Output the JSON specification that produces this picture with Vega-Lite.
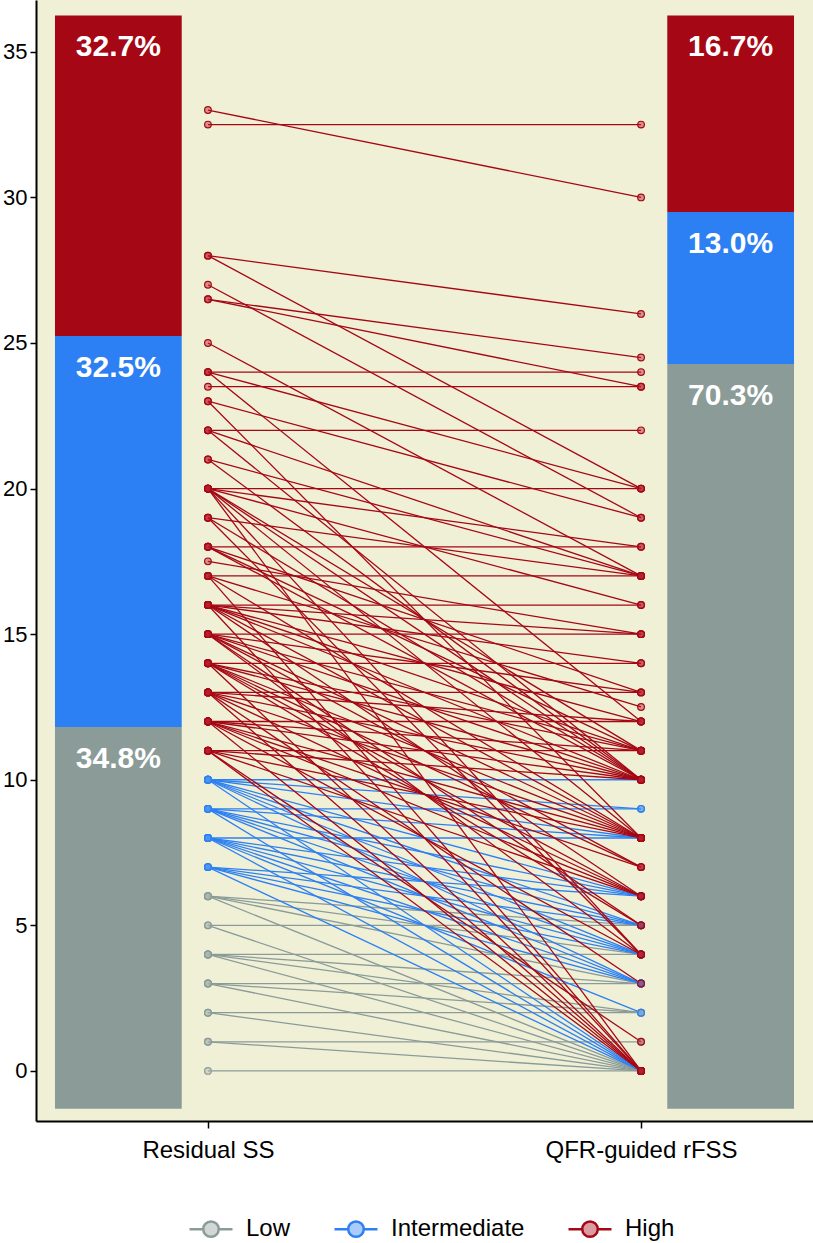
{
  "$schema": "https://vega.github.io/schema/vega-lite/v6.json",
  "width": 777,
  "height": 1121,
  "autosize": {"type": "none"},
  "padding": {"left": 36, "top": 0, "right": 0, "bottom": 122},
  "background": "#ffffff",
  "config": {
    "view": {"fill": "#f0f0d7", "stroke": null},
    "font": "Liberation Sans, Arial, sans-serif",
    "axisY": {"domainColor": "#000000", "domainWidth": 2, "tickColor": "#000000", "tickSize": 6, "tickWidth": 1.5, "labelFontSize": 22, "labelColor": "#000000", "labelPadding": 3, "grid": false, "title": null},
    "axisX": {"domainColor": "#000000", "domainWidth": 2, "tickColor": "#000000", "tickSize": 7, "tickWidth": 1.5, "labelFontSize": 24, "labelColor": "#000000", "labelPadding": 10, "labelAngle": 0, "labelLimit": 0, "grid": false, "title": null}
  },
  "datasets": {
    "bars": [
      {"stage": "Residual SS", "level": "Low", "lo": -1.3, "hi": 11.81, "pct": "34.8%"},
      {"stage": "Residual SS", "level": "Intermediate", "lo": 11.81, "hi": 25.24, "pct": "32.5%"},
      {"stage": "Residual SS", "level": "High", "lo": 25.24, "hi": 36.25, "pct": "32.7%"},
      {"stage": "QFR-guided rFSS", "level": "Low", "lo": -1.3, "hi": 24.28, "pct": "70.3%"},
      {"stage": "QFR-guided rFSS", "level": "Intermediate", "lo": 24.28, "hi": 29.5, "pct": "13.0%"},
      {"stage": "QFR-guided rFSS", "level": "High", "lo": 29.5, "hi": 36.25, "pct": "16.7%"}
    ],
    "pairs": [
      {"id": 1, "g": "Low", "Residual SS": 6, "QFR-guided rFSS": 5},
      {"id": 2, "g": "Low", "Residual SS": 6, "QFR-guided rFSS": 3},
      {"id": 3, "g": "Low", "Residual SS": 6, "QFR-guided rFSS": 0},
      {"id": 4, "g": "Low", "Residual SS": 6, "QFR-guided rFSS": 4},
      {"id": 5, "g": "Low", "Residual SS": 5, "QFR-guided rFSS": 5},
      {"id": 6, "g": "Low", "Residual SS": 5, "QFR-guided rFSS": 0},
      {"id": 7, "g": "Low", "Residual SS": 4, "QFR-guided rFSS": 4},
      {"id": 8, "g": "Low", "Residual SS": 4, "QFR-guided rFSS": 3},
      {"id": 9, "g": "Low", "Residual SS": 4, "QFR-guided rFSS": 2},
      {"id": 10, "g": "Low", "Residual SS": 4, "QFR-guided rFSS": 0},
      {"id": 11, "g": "Low", "Residual SS": 3, "QFR-guided rFSS": 3},
      {"id": 12, "g": "Low", "Residual SS": 3, "QFR-guided rFSS": 2},
      {"id": 13, "g": "Low", "Residual SS": 3, "QFR-guided rFSS": 0},
      {"id": 14, "g": "Low", "Residual SS": 2, "QFR-guided rFSS": 2},
      {"id": 15, "g": "Low", "Residual SS": 2, "QFR-guided rFSS": 0},
      {"id": 16, "g": "Low", "Residual SS": 1, "QFR-guided rFSS": 1},
      {"id": 17, "g": "Low", "Residual SS": 1, "QFR-guided rFSS": 0},
      {"id": 18, "g": "Low", "Residual SS": 0, "QFR-guided rFSS": 0},
      {"id": 19, "g": "Intermediate", "Residual SS": 10, "QFR-guided rFSS": 10},
      {"id": 20, "g": "Intermediate", "Residual SS": 10, "QFR-guided rFSS": 9},
      {"id": 21, "g": "Intermediate", "Residual SS": 10, "QFR-guided rFSS": 8},
      {"id": 22, "g": "Intermediate", "Residual SS": 10, "QFR-guided rFSS": 6},
      {"id": 23, "g": "Intermediate", "Residual SS": 10, "QFR-guided rFSS": 5},
      {"id": 24, "g": "Intermediate", "Residual SS": 10, "QFR-guided rFSS": 4},
      {"id": 25, "g": "Intermediate", "Residual SS": 10, "QFR-guided rFSS": 3},
      {"id": 26, "g": "Intermediate", "Residual SS": 10, "QFR-guided rFSS": 0},
      {"id": 27, "g": "Intermediate", "Residual SS": 9, "QFR-guided rFSS": 9},
      {"id": 28, "g": "Intermediate", "Residual SS": 9, "QFR-guided rFSS": 8},
      {"id": 29, "g": "Intermediate", "Residual SS": 9, "QFR-guided rFSS": 6},
      {"id": 30, "g": "Intermediate", "Residual SS": 9, "QFR-guided rFSS": 5},
      {"id": 31, "g": "Intermediate", "Residual SS": 9, "QFR-guided rFSS": 4},
      {"id": 32, "g": "Intermediate", "Residual SS": 9, "QFR-guided rFSS": 3},
      {"id": 33, "g": "Intermediate", "Residual SS": 9, "QFR-guided rFSS": 0},
      {"id": 34, "g": "Intermediate", "Residual SS": 8, "QFR-guided rFSS": 8},
      {"id": 35, "g": "Intermediate", "Residual SS": 8, "QFR-guided rFSS": 6},
      {"id": 36, "g": "Intermediate", "Residual SS": 8, "QFR-guided rFSS": 5},
      {"id": 37, "g": "Intermediate", "Residual SS": 8, "QFR-guided rFSS": 4},
      {"id": 38, "g": "Intermediate", "Residual SS": 8, "QFR-guided rFSS": 3},
      {"id": 39, "g": "Intermediate", "Residual SS": 8, "QFR-guided rFSS": 2},
      {"id": 40, "g": "Intermediate", "Residual SS": 8, "QFR-guided rFSS": 0},
      {"id": 41, "g": "Intermediate", "Residual SS": 7, "QFR-guided rFSS": 6},
      {"id": 42, "g": "Intermediate", "Residual SS": 7, "QFR-guided rFSS": 5},
      {"id": 43, "g": "Intermediate", "Residual SS": 7, "QFR-guided rFSS": 4},
      {"id": 44, "g": "Intermediate", "Residual SS": 7, "QFR-guided rFSS": 3},
      {"id": 45, "g": "Intermediate", "Residual SS": 7, "QFR-guided rFSS": 0},
      {"id": 46, "g": "High", "Residual SS": 33, "QFR-guided rFSS": 30},
      {"id": 47, "g": "High", "Residual SS": 32.5, "QFR-guided rFSS": 32.5},
      {"id": 48, "g": "High", "Residual SS": 28, "QFR-guided rFSS": 26},
      {"id": 49, "g": "High", "Residual SS": 28, "QFR-guided rFSS": 20},
      {"id": 50, "g": "High", "Residual SS": 27, "QFR-guided rFSS": 19},
      {"id": 51, "g": "High", "Residual SS": 26.5, "QFR-guided rFSS": 24.5},
      {"id": 52, "g": "High", "Residual SS": 26.5, "QFR-guided rFSS": 23.5},
      {"id": 53, "g": "High", "Residual SS": 25, "QFR-guided rFSS": 17},
      {"id": 54, "g": "High", "Residual SS": 24, "QFR-guided rFSS": 24},
      {"id": 55, "g": "High", "Residual SS": 24, "QFR-guided rFSS": 20},
      {"id": 56, "g": "High", "Residual SS": 24, "QFR-guided rFSS": 12},
      {"id": 57, "g": "High", "Residual SS": 23.5, "QFR-guided rFSS": 23.5},
      {"id": 58, "g": "High", "Residual SS": 23, "QFR-guided rFSS": 19},
      {"id": 59, "g": "High", "Residual SS": 23, "QFR-guided rFSS": 8},
      {"id": 60, "g": "High", "Residual SS": 22, "QFR-guided rFSS": 22},
      {"id": 61, "g": "High", "Residual SS": 22, "QFR-guided rFSS": 17},
      {"id": 62, "g": "High", "Residual SS": 22, "QFR-guided rFSS": 10},
      {"id": 63, "g": "High", "Residual SS": 21, "QFR-guided rFSS": 17},
      {"id": 64, "g": "High", "Residual SS": 21, "QFR-guided rFSS": 10},
      {"id": 65, "g": "High", "Residual SS": 20, "QFR-guided rFSS": 20},
      {"id": 66, "g": "High", "Residual SS": 20, "QFR-guided rFSS": 18},
      {"id": 67, "g": "High", "Residual SS": 20, "QFR-guided rFSS": 16},
      {"id": 68, "g": "High", "Residual SS": 20, "QFR-guided rFSS": 11},
      {"id": 69, "g": "High", "Residual SS": 20, "QFR-guided rFSS": 10},
      {"id": 70, "g": "High", "Residual SS": 20, "QFR-guided rFSS": 8},
      {"id": 71, "g": "High", "Residual SS": 20, "QFR-guided rFSS": 4},
      {"id": 72, "g": "High", "Residual SS": 20, "QFR-guided rFSS": 0},
      {"id": 73, "g": "High", "Residual SS": 19, "QFR-guided rFSS": 17},
      {"id": 74, "g": "High", "Residual SS": 19, "QFR-guided rFSS": 10},
      {"id": 75, "g": "High", "Residual SS": 19, "QFR-guided rFSS": 4},
      {"id": 76, "g": "High", "Residual SS": 18, "QFR-guided rFSS": 18},
      {"id": 77, "g": "High", "Residual SS": 18, "QFR-guided rFSS": 13},
      {"id": 78, "g": "High", "Residual SS": 18, "QFR-guided rFSS": 11},
      {"id": 79, "g": "High", "Residual SS": 18, "QFR-guided rFSS": 10},
      {"id": 80, "g": "High", "Residual SS": 17.5, "QFR-guided rFSS": 15},
      {"id": 81, "g": "High", "Residual SS": 17, "QFR-guided rFSS": 17},
      {"id": 82, "g": "High", "Residual SS": 17, "QFR-guided rFSS": 12.5},
      {"id": 83, "g": "High", "Residual SS": 17, "QFR-guided rFSS": 8},
      {"id": 84, "g": "High", "Residual SS": 17, "QFR-guided rFSS": 0},
      {"id": 85, "g": "High", "Residual SS": 16, "QFR-guided rFSS": 16},
      {"id": 86, "g": "High", "Residual SS": 16, "QFR-guided rFSS": 15},
      {"id": 87, "g": "High", "Residual SS": 16, "QFR-guided rFSS": 14},
      {"id": 88, "g": "High", "Residual SS": 16, "QFR-guided rFSS": 12},
      {"id": 89, "g": "High", "Residual SS": 16, "QFR-guided rFSS": 11},
      {"id": 90, "g": "High", "Residual SS": 16, "QFR-guided rFSS": 10},
      {"id": 91, "g": "High", "Residual SS": 16, "QFR-guided rFSS": 8},
      {"id": 92, "g": "High", "Residual SS": 16, "QFR-guided rFSS": 6},
      {"id": 93, "g": "High", "Residual SS": 16, "QFR-guided rFSS": 0},
      {"id": 94, "g": "High", "Residual SS": 15, "QFR-guided rFSS": 15},
      {"id": 95, "g": "High", "Residual SS": 15, "QFR-guided rFSS": 13},
      {"id": 96, "g": "High", "Residual SS": 15, "QFR-guided rFSS": 11},
      {"id": 97, "g": "High", "Residual SS": 15, "QFR-guided rFSS": 10},
      {"id": 98, "g": "High", "Residual SS": 15, "QFR-guided rFSS": 8},
      {"id": 99, "g": "High", "Residual SS": 15, "QFR-guided rFSS": 7},
      {"id": 100, "g": "High", "Residual SS": 15, "QFR-guided rFSS": 5},
      {"id": 101, "g": "High", "Residual SS": 15, "QFR-guided rFSS": 4},
      {"id": 102, "g": "High", "Residual SS": 14, "QFR-guided rFSS": 14},
      {"id": 103, "g": "High", "Residual SS": 14, "QFR-guided rFSS": 11},
      {"id": 104, "g": "High", "Residual SS": 14, "QFR-guided rFSS": 10},
      {"id": 105, "g": "High", "Residual SS": 14, "QFR-guided rFSS": 8},
      {"id": 106, "g": "High", "Residual SS": 14, "QFR-guided rFSS": 7},
      {"id": 107, "g": "High", "Residual SS": 14, "QFR-guided rFSS": 6},
      {"id": 108, "g": "High", "Residual SS": 14, "QFR-guided rFSS": 5},
      {"id": 109, "g": "High", "Residual SS": 14, "QFR-guided rFSS": 0},
      {"id": 110, "g": "High", "Residual SS": 13, "QFR-guided rFSS": 13},
      {"id": 111, "g": "High", "Residual SS": 13, "QFR-guided rFSS": 12},
      {"id": 112, "g": "High", "Residual SS": 13, "QFR-guided rFSS": 10},
      {"id": 113, "g": "High", "Residual SS": 13, "QFR-guided rFSS": 8},
      {"id": 114, "g": "High", "Residual SS": 13, "QFR-guided rFSS": 6},
      {"id": 115, "g": "High", "Residual SS": 13, "QFR-guided rFSS": 3},
      {"id": 116, "g": "High", "Residual SS": 13, "QFR-guided rFSS": 0},
      {"id": 117, "g": "High", "Residual SS": 12, "QFR-guided rFSS": 12},
      {"id": 118, "g": "High", "Residual SS": 12, "QFR-guided rFSS": 11},
      {"id": 119, "g": "High", "Residual SS": 12, "QFR-guided rFSS": 10},
      {"id": 120, "g": "High", "Residual SS": 12, "QFR-guided rFSS": 8},
      {"id": 121, "g": "High", "Residual SS": 12, "QFR-guided rFSS": 7},
      {"id": 122, "g": "High", "Residual SS": 12, "QFR-guided rFSS": 6},
      {"id": 123, "g": "High", "Residual SS": 12, "QFR-guided rFSS": 4},
      {"id": 124, "g": "High", "Residual SS": 12, "QFR-guided rFSS": 0},
      {"id": 125, "g": "High", "Residual SS": 11, "QFR-guided rFSS": 11},
      {"id": 126, "g": "High", "Residual SS": 11, "QFR-guided rFSS": 10},
      {"id": 127, "g": "High", "Residual SS": 11, "QFR-guided rFSS": 8},
      {"id": 128, "g": "High", "Residual SS": 11, "QFR-guided rFSS": 6},
      {"id": 129, "g": "High", "Residual SS": 11, "QFR-guided rFSS": 1},
      {"id": 130, "g": "High", "Residual SS": 11, "QFR-guided rFSS": 0}
    ]
  },
  "resolve": {"scale": {"x": "independent"}, "axis": {"x": "independent"}},
  "layer": [
    {
      "data": {"name": "bars"},
      "encoding": {
        "x": {"field": "stage", "type": "nominal", "axis": null, "sort": null,
              "scale": {"type": "band", "domain": ["Residual SS", "QFR-guided rFSS"], "paddingInner": 0.793, "paddingOuter": 0.031}}
      },
      "layer": [
        {
          "mark": {"type": "bar"},
          "encoding": {
            "y": {"field": "lo", "type": "quantitative", "scale": {"domain": [-1.72, 36.78], "nice": false, "zero": false},
                  "axis": {"values": [0, 5, 10, 15, 20, 25, 30, 35], "title": null, "grid": false}},
            "y2": {"field": "hi"},
            "color": {"field": "level", "type": "nominal",
                      "scale": {"domain": ["Low", "Intermediate", "High"], "range": ["#8a9b98", "#2d80f3", "#a50714"]},
                      "legend": {"title": null, "orient": "none", "direction": "horizontal", "legendX": 152, "legendY": 1206,
                                 "symbolType": "M-1,0L-0.36,0M0.36,0L1,0M-0.36,0A0.36,0.36 0 1,0 0.36,0A0.36,0.36 0 1,0 -0.36,0Z",
                                 "symbolSize": 1849, "symbolStrokeWidth": 2.5, "labelFontSize": 24, "labelColor": "#000000", "labelOffset": 12, "columnPadding": 38,
                                 "encode": {"symbols": {"update": {"fill": {"scale": "color", "field": "value"}, "fillOpacity": {"value": 0.4}, "stroke": {"scale": "color", "field": "value"}, "strokeOpacity": {"value": 1}}}}}
            }
          }
        },
        {
          "mark": {"type": "text", "color": "#ffffff", "fontSize": 30, "fontWeight": "bold", "baseline": "middle", "align": "center", "dy": 32},
          "encoding": {
            "y": {"field": "hi", "type": "quantitative"},
            "text": {"field": "pct", "type": "nominal"}
          }
        }
      ]
    },
    {
      "data": {"name": "pairs"},
      "transform": [{"fold": ["Residual SS", "QFR-guided rFSS"], "as": ["stage", "score"]}],
      "encoding": {
        "x": {"field": "stage", "type": "nominal", "sort": null,
              "scale": {"type": "point", "domain": ["Residual SS", "QFR-guided rFSS"], "padding": 0.397}},
        "y": {"field": "score", "type": "quantitative"}
      },
      "layer": [
        {
          "mark": {"type": "line", "strokeWidth": 1.3},
          "encoding": {
            "detail": {"field": "id", "type": "nominal"},
            "color": {"field": "g", "type": "nominal"}
          }
        },
        {
          "mark": {"type": "point", "filled": false, "size": 45, "strokeWidth": 1.2, "opacity": 1, "fillOpacity": 0.45},
          "encoding": {
            "color": {"field": "g", "type": "nominal"},
            "fill": {"field": "g", "type": "nominal", "legend": null,
                     "scale": {"domain": ["Low", "Intermediate", "High"], "range": ["#a8b4ae", "#4b95f0", "#b5202c"]}}
          }
        }
      ]
    }
  ]
}
